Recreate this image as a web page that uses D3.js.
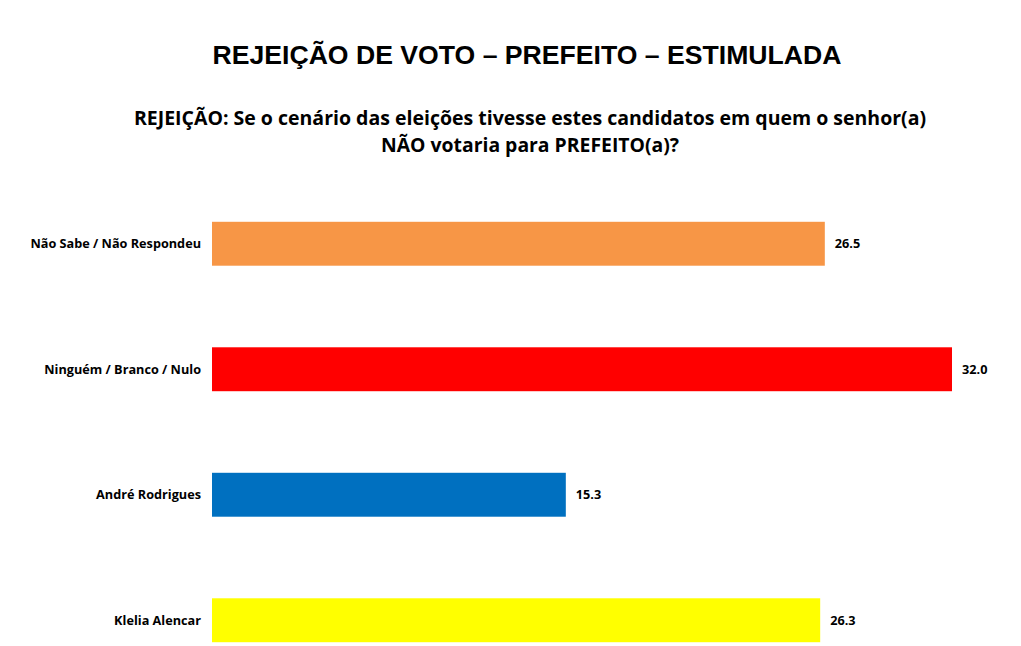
<!DOCTYPE html>
<html>
<head>
<meta charset="utf-8">
<script src="https://cdn.jsdelivr.net/npm/d3@7"></script>
<style>
  body { margin: 0; background: #fff; }
</style>
</head>
<body>
<div id="chart"></div>
<script>
// chart data
const categories = ["Não Sabe / Não Respondeu", "Ninguém / Branco / Nulo", "André Rodrigues", "Klelia Alencar"];
const values = [26.5, 32.0, 15.3, 26.3];
const barColors = ["#F79646", "#FF0000", "#0070C0", "#FFFF00"];
const title = "REJEIÇÃO DE VOTO – PREFEITO – ESTIMULADA";
const subtitleLines = ["REJEIÇÃO: Se o cenário das eleições tivesse estes candidatos em quem o senhor(a)", "NÃO votaria para PREFEITO(a)?"];

const width = 1021, height = 646;

const svg = d3.select("#chart")
  .append("svg")
    .attr("width", width)
    .attr("height", height);

// title
svg.append("text")
  .attr("x", 527)
  .attr("y", 64)
  .attr("text-anchor", "middle")
  .style("font-family", "'Liberation Sans', Arial, sans-serif")
  .style("font-weight", "bold")
  .style("font-size", "25px")
  .attr("textLength", 629)
  .attr("lengthAdjust", "spacingAndGlyphs")
  .attr("fill", "#000")
  .text(title);

// subtitle, two centred lines
svg.selectAll(".subtitle")
  .data(subtitleLines)
  .enter()
  .append("text")
    .attr("class", "subtitle")
    .attr("x", 530)
    .attr("y", (d, i) => 125 + i * 27)
    .attr("text-anchor", "middle")
    .style("font-family", "'Open Sans', 'Noto Sans', sans-serif")
    .style("font-weight", "bold")
    .style("font-size", "19.5px")
    .attr("fill", "#000")
    .text(d => d);

// squeeze the subtitle to the width of the original narrow font
const subWidths = [794, 298];
svg.selectAll(".subtitle").each(function(d, i) {
  if (this.getComputedTextLength() > subWidths[i]) {
    d3.select(this).attr("textLength", subWidths[i]).attr("lengthAdjust", "spacingAndGlyphs");
  }
});

// scales
const xScale = d3.scaleLinear()
  .domain([0, 32])
  .range([212, 952]);

const yScale = d3.scaleBand()
  .domain(categories)
  .range([181, 683])
  .paddingInner(0.65)
  .paddingOuter(0.325);

const data = categories.map((c, i) => ({ cat: c, val: values[i], color: barColors[i] }));

// bars
svg.selectAll(".bar")
  .data(data)
  .enter()
  .append("rect")
    .attr("class", "bar")
    .attr("x", xScale(0))
    .attr("y", d => yScale(d.cat))
    .attr("width", d => xScale(d.val) - xScale(0))
    .attr("height", yScale.bandwidth())
    .attr("fill", d => d.color);

// category labels
const labelFont = "'Open Sans', 'Noto Sans', sans-serif";
svg.selectAll(".cat-label")
  .data(data)
  .enter()
  .append("text")
    .attr("class", "cat-label")
    .attr("x", xScale(0) - 11)
    .attr("y", d => yScale(d.cat) + yScale.bandwidth() / 2)
    .attr("dy", "0.35em")
    .attr("text-anchor", "end")
    .style("font-family", labelFont)
    .style("font-weight", "bold")
    .style("font-size", "12.7px")
    .attr("fill", "#000")
    .text(d => d.cat);

// value labels
svg.selectAll(".val-label")
  .data(data)
  .enter()
  .append("text")
    .attr("class", "val-label")
    .attr("x", d => xScale(d.val) + 10)
    .attr("y", d => yScale(d.cat) + yScale.bandwidth() / 2)
    .attr("dy", "0.35em")
    .style("font-family", labelFont)
    .style("font-weight", "bold")
    .style("font-size", "12.7px")
    .attr("fill", "#000")
    .text(d => d3.format(".1f")(d.val));
</script>
</body>
</html>
